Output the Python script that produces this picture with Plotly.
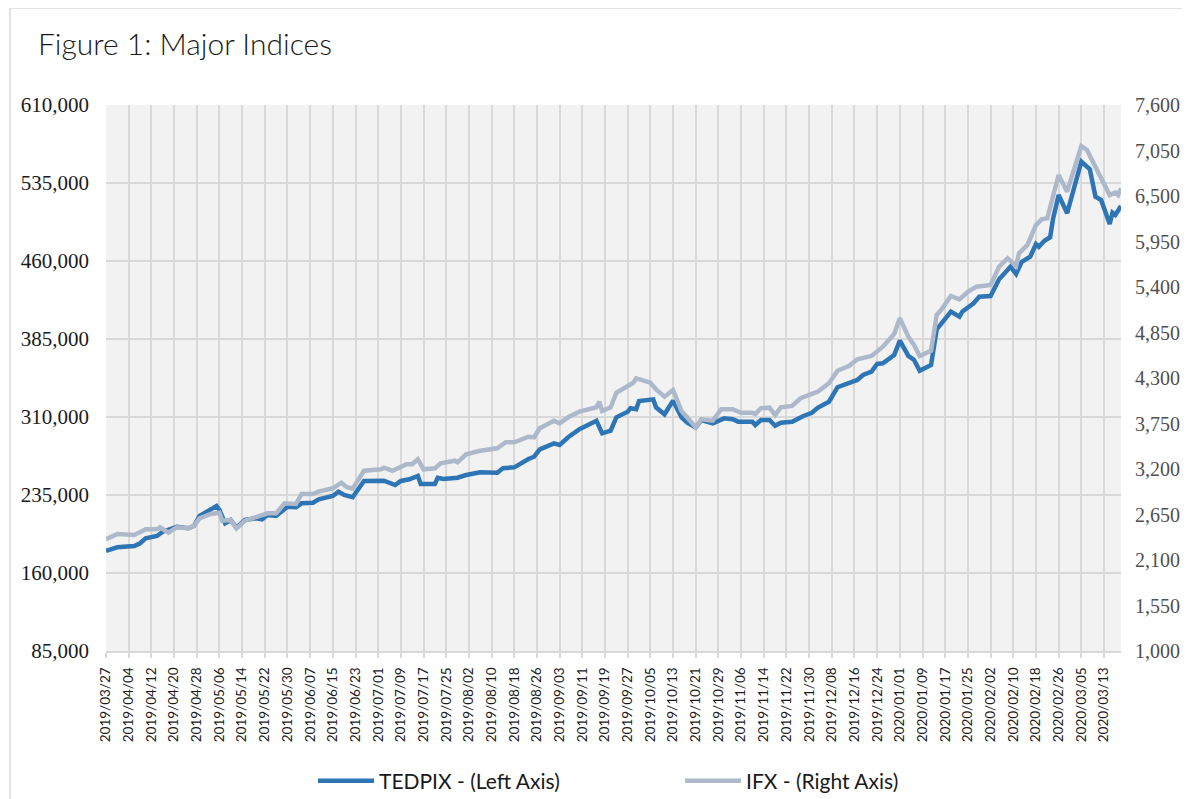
import plotly.graph_objects as go

# ---------------- data ----------------
tedpix_dates = [
    "2019-03-27", "2019-03-31", "2019-04-06", "2019-04-08", "2019-04-10", "2019-04-14", "2019-04-16",
    "2019-04-21", "2019-04-25", "2019-04-27", "2019-04-29", "2019-05-02", "2019-05-05", "2019-05-06",
    "2019-05-08", "2019-05-10", "2019-05-12", "2019-05-15", "2019-05-19", "2019-05-21", "2019-05-23",
    "2019-05-26", "2019-05-30", "2019-06-02", "2019-06-04", "2019-06-08", "2019-06-10", "2019-06-15",
    "2019-06-17", "2019-06-19", "2019-06-22", "2019-06-26", "2019-07-01", "2019-07-03", "2019-07-07",
    "2019-07-09", "2019-07-12", "2019-07-15", "2019-07-16", "2019-07-21", "2019-07-22", "2019-07-24",
    "2019-07-29", "2019-08-01", "2019-08-06", "2019-08-12", "2019-08-14", "2019-08-18", "2019-08-23",
    "2019-08-25", "2019-08-27", "2019-09-01", "2019-09-03", "2019-09-06", "2019-09-10", "2019-09-14",
    "2019-09-16", "2019-09-18", "2019-09-21", "2019-09-23", "2019-09-27", "2019-09-28", "2019-09-30",
    "2019-10-01", "2019-10-06", "2019-10-07", "2019-10-10", "2019-10-13", "2019-10-16", "2019-10-18",
    "2019-10-21", "2019-10-23", "2019-10-27", "2019-10-31", "2019-11-03", "2019-11-05", "2019-11-10",
    "2019-11-11", "2019-11-13", "2019-11-16", "2019-11-18", "2019-11-20", "2019-11-24", "2019-11-28",
    "2019-12-01", "2019-12-03", "2019-12-07", "2019-12-10", "2019-12-14", "2019-12-17", "2019-12-19",
    "2019-12-22", "2019-12-24", "2019-12-26", "2019-12-30", "2020-01-01", "2020-01-04", "2020-01-06",
    "2020-01-08", "2020-01-11", "2020-01-12", "2020-01-14", "2020-01-16", "2020-01-19", "2020-01-22",
    "2020-01-23", "2020-01-27", "2020-01-29", "2020-02-02", "2020-02-05", "2020-02-09", "2020-02-11",
    "2020-02-13", "2020-02-16", "2020-02-18", "2020-02-19", "2020-02-21", "2020-02-23", "2020-02-24",
    "2020-02-26", "2020-02-29", "2020-03-05", "2020-03-08", "2020-03-10", "2020-03-12", "2020-03-15",
    "2020-03-16", "2020-03-17", "2020-03-19",
]
tedpix_values = [
    181400, 184700, 186000, 188600, 193400, 195600, 199700,
    204500, 203000, 205200, 214800, 219900, 224400, 220600,
    207800, 211000, 203600, 211000, 212600, 211600, 215800,
    214800, 223700, 223200, 227000, 227600, 230900, 234000,
    238200, 235000, 232800, 248500, 248500, 248800, 244600,
    248500, 250100, 253300, 245600, 245600, 251600, 250400,
    251600, 254200, 256800, 256400, 260700, 261600, 269600,
    271800, 278900, 284700, 283100, 290500, 298200, 303300,
    306400, 294300, 296800, 309700, 315100, 318400, 317400,
    325400, 327000, 319300, 312600, 325700, 309700, 304500,
    300100, 307100, 303900, 308700, 307800, 305500, 305500,
    302300, 307100, 307100, 301600, 304500, 305500, 311000,
    314100, 318900, 324700, 338600, 343000, 345600, 350400,
    353600, 361000, 361600, 369600, 383400, 368700, 364800,
    354500, 357800, 360000, 394300, 401600, 411300, 406400,
    411300, 419300, 425700, 426300, 442400, 454500, 447500,
    459300, 464100, 476300, 473700, 479500, 482800, 500100,
    523500, 505900, 555500, 548200, 521800, 518700, 495600,
    506400, 504200, 512900,
]

ifx_dates = [
    "2019-03-27", "2019-03-31", "2019-04-06", "2019-04-10", "2019-04-14", "2019-04-15", "2019-04-18",
    "2019-04-21", "2019-04-25", "2019-04-27", "2019-04-29", "2019-05-03", "2019-05-06", "2019-05-07",
    "2019-05-10", "2019-05-12", "2019-05-15", "2019-05-19", "2019-05-23", "2019-05-26", "2019-05-29",
    "2019-06-02", "2019-06-04", "2019-06-08", "2019-06-10", "2019-06-15", "2019-06-18", "2019-06-20",
    "2019-06-22", "2019-06-26", "2019-07-02", "2019-07-03", "2019-07-06", "2019-07-11", "2019-07-13",
    "2019-07-15", "2019-07-17", "2019-07-21", "2019-07-23", "2019-07-28", "2019-07-29", "2019-08-01",
    "2019-08-06", "2019-08-12", "2019-08-15", "2019-08-18", "2019-08-23", "2019-08-25", "2019-08-27",
    "2019-09-01", "2019-09-03", "2019-09-06", "2019-09-10", "2019-09-16", "2019-09-17", "2019-09-18",
    "2019-09-21", "2019-09-23", "2019-09-27", "2019-09-29", "2019-09-30", "2019-10-05", "2019-10-07",
    "2019-10-10", "2019-10-13", "2019-10-16", "2019-10-21", "2019-10-23", "2019-10-27", "2019-10-30",
    "2019-11-03", "2019-11-06", "2019-11-10", "2019-11-11", "2019-11-13", "2019-11-16", "2019-11-18",
    "2019-11-20", "2019-11-24", "2019-11-27", "2019-12-01", "2019-12-03", "2019-12-07", "2019-12-10",
    "2019-12-14", "2019-12-17", "2019-12-22", "2019-12-24", "2019-12-26", "2019-12-30", "2020-01-01",
    "2020-01-04", "2020-01-06", "2020-01-08", "2020-01-11", "2020-01-12", "2020-01-14", "2020-01-16",
    "2020-01-19", "2020-01-22", "2020-01-25", "2020-01-28", "2020-02-02", "2020-02-05", "2020-02-08",
    "2020-02-11", "2020-02-12", "2020-02-15", "2020-02-18", "2020-02-20", "2020-02-22", "2020-02-24",
    "2020-02-26", "2020-02-29", "2020-03-05", "2020-03-07", "2020-03-11", "2020-03-12", "2020-03-15",
    "2020-03-17", "2020-03-18", "2020-03-19",
]
ifx_values = [
    2350, 2414, 2402, 2471, 2471, 2495, 2430,
    2495, 2483, 2511, 2604, 2656, 2672, 2575,
    2583, 2483, 2575, 2616, 2664, 2664, 2785,
    2777, 2898, 2898, 2926, 2967, 3034, 2979,
    2962, 3179, 3196, 3216, 3179, 3257, 3257,
    3317, 3196, 3208, 3269, 3300, 3281, 3378,
    3421, 3450, 3523, 3523, 3590, 3583, 3692,
    3784, 3752, 3825, 3893, 3946, 4013, 3901,
    3946, 4122, 4203, 4243, 4296, 4243, 4163,
    4074, 4155, 3901, 3704, 3801, 3784, 3922,
    3922, 3880, 3880, 3865, 3934, 3941, 3853,
    3946, 3962, 4055, 4107, 4134, 4236, 4388,
    4445, 4526, 4566, 4630, 4678, 4832, 5022,
    4799, 4699, 4566, 4618, 4630, 5062, 5143,
    5291, 5251, 5343, 5404, 5424, 5645, 5747,
    5654, 5807, 5908, 6149, 6218, 6230, 6472,
    6754, 6552, 7104, 7056, 6782, 6742, 6512,
    6540, 6512, 6593,
]

series_names = ["TEDPIX - (Left Axis)", "IFX - (Right Axis)"]
title_text = "Figure 1: Major Indices"

# ---------------- figure ----------------
OFF = 8                      # page body margin
W, H = 1190 - OFF, 799
ML, MT = 106 - OFF, 105 - OFF
MR = W - (1121 - OFF)
MB = H - (651 - OFF)
PW, PH = W - ML - MR, H - MT - MB

def px_x(p):                 # page pixel -> paper fraction
    return (p - OFF - ML) / PW

def px_y(p):
    return (H - MB - (p - OFF)) / PH

def cx(p):                   # page pixel -> container fraction
    return (p - OFF) / W

def cy(p):
    return 1 - (p - OFF) / H

BLUE = "#2E75B6"
GRAY = "#ADB9CA"
GRID = "#D9D9D9"

fig = go.Figure()
fig.add_trace(go.Scatter(x=tedpix_dates, y=tedpix_values, name=series_names[0],
                         mode="lines", line=dict(color=BLUE, width=4.5), yaxis="y"))
fig.add_trace(go.Scatter(x=ifx_dates, y=ifx_values, name=series_names[1],
                         mode="lines", line=dict(color=GRAY, width=4.5), yaxis="y2"))

fig.update_layout(
    width=W, height=H,
    margin=dict(l=ML, r=MR, t=MT, b=MB, autoexpand=False),
    paper_bgcolor="white",
    plot_bgcolor="#F2F2F2",
    showlegend=True,
    legend=dict(orientation="h", xref="container", yref="container",
                x=cx(313), xanchor="left", y=cy(781), yanchor="middle",
                font=dict(family="Lato", size=21, color="#1A1A1A"),
                itemwidth=56,
                entrywidth=296, entrywidthmode="pixels", bgcolor="rgba(0,0,0,0)"),
    xaxis=dict(
        type="date",
        range=["2019-03-27", "2020-03-19"],
        tick0="2019-03-27", dtick=8 * 86400000,
        tickformat="%Y/%m/%d", tickangle=-90,
        tickfont=dict(family="Lato", size=13.5, color="#1A1A1A"),
        showgrid=True, gridcolor=GRID, gridwidth=2,
        ticks="outside", ticklen=5, tickcolor=GRID, tickwidth=2,
        showline=True, linecolor=GRID, linewidth=2,
        zeroline=False, ticklabelstandoff=4, automargin=False,
    ),
    yaxis=dict(
        range=[85000, 610000], tick0=85000, dtick=75000,
        tickformat=",d",
        tickfont=dict(family="Liberation Serif", size=21, color="#1A1A1A"),
        showgrid=True, gridcolor=GRID, gridwidth=2,
        zeroline=False, showline=False, ticks="", ticklabelstandoff=16, automargin=False,
    ),
    yaxis2=dict(
        overlaying="y", side="right",
        range=[1000, 7600], tick0=1000, dtick=550,
        tickformat=",d",
        tickfont=dict(family="Liberation Serif", size=20, color="#505050"),
        showgrid=False, zeroline=False, showline=False, ticks="", ticklabelstandoff=13,
        automargin=False,
    ),
    annotations=[dict(
        text=title_text, xref="paper", yref="paper",
        x=px_x(36), y=px_y(43), xanchor="left", yanchor="middle", showarrow=False,
        font=dict(family="Lato", size=30, color="#1A1A1A", weight=300),
    )],
    shapes=[dict(
        type="rect", xref="paper", yref="paper",
        x0=px_x(10), y0=px_y(830), x1=px_x(1210), y1=px_y(8),
        line=dict(color=GRID, width=1.5), layer="below",
    )],
)

fig.write_html("out.html")
